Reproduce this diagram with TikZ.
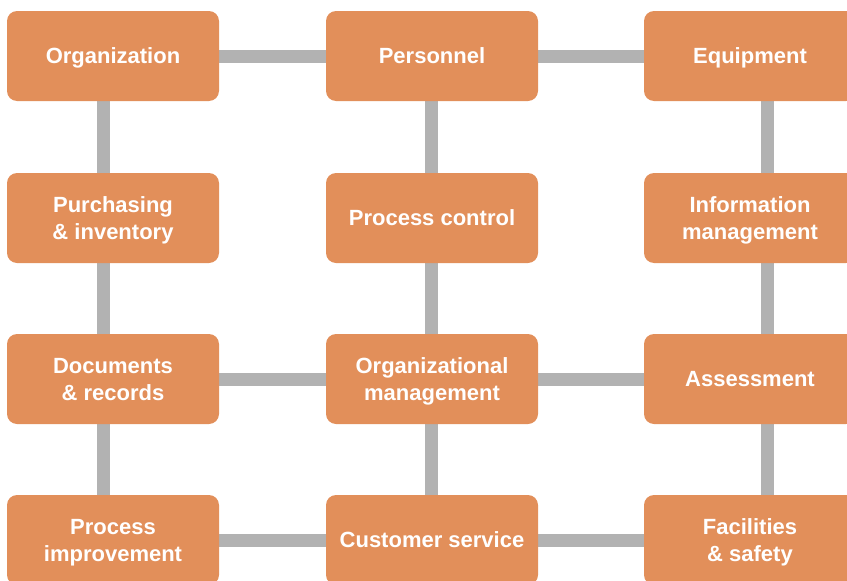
\documentclass[tikz,border=0pt]{standalone}
\usepackage{fontspec}
\setmainfont{Liberation Sans}
\usetikzlibrary{backgrounds}
\definecolor{boxorange}{RGB}{226,143,90}
\definecolor{linkgray}{RGB}{178,178,178}
\tikzset{
  box/.style={fill=boxorange, draw=none, rounded corners=10pt, minimum width=212pt, minimum height=90pt, inner sep=0pt, align=center, text=white, text depth=0pt, font=\fontsize{22}{27}\selectfont\bfseries},
  link/.style={draw=linkgray, line width=13pt}
}
\begin{document}
\begin{tikzpicture}[x=1pt,y=-1pt]
\clip (0,0) rectangle (847,581);
\node[box] (org) at (113,56) {Organization};
\node[box] (pers) at (432,56) {Personnel};
\node[box] (equip) at (750,56) {Equipment};
\node[box] (purch) at (113,218) {Purchasing\\\& inventory};
\node[box] (proc) at (432,218) {Process control};
\node[box] (info) at (750,218) {Information\\management};
\node[box] (docs) at (113,379) {Documents\\\& records};
\node[box] (orgm) at (432,379) {Organizational\\management};
\node[box] (assess) at (750,379) {Assessment};
\node[box] (impr) at (113,540) {Process\\improvement};
\node[box] (cust) at (432,540) {Customer service};
\node[box] (fac) at (750,540) {Facilities\\\& safety};
\begin{scope}[on background layer]
\draw[link] (org) -- (pers);
\draw[link] (pers) -- (equip);
\draw[link] (docs) -- (orgm);
\draw[link] (orgm) -- (assess);
\draw[link] (impr) -- (cust);
\draw[link] (cust) -- (fac);
\draw[link] ([xshift=-9.5pt]org.south) -- ([xshift=-9.5pt]purch.north);
\draw[link] ([xshift=-9.5pt]purch.south) -- ([xshift=-9.5pt]docs.north);
\draw[link] ([xshift=-9.5pt]docs.south) -- ([xshift=-9.5pt]impr.north);
\draw[link] ([xshift=-1pt]pers.south) -- ([xshift=-1pt]proc.north);
\draw[link] ([xshift=-1pt]proc.south) -- ([xshift=-1pt]orgm.north);
\draw[link] ([xshift=-1pt]orgm.south) -- ([xshift=-1pt]cust.north);
\draw[link] ([xshift=17.5pt]equip.south) -- ([xshift=17.5pt]info.north);
\draw[link] ([xshift=17.5pt]info.south) -- ([xshift=17.5pt]assess.north);
\draw[link] ([xshift=17.5pt]assess.south) -- ([xshift=17.5pt]fac.north);
\end{scope}
\end{tikzpicture}
\end{document}
